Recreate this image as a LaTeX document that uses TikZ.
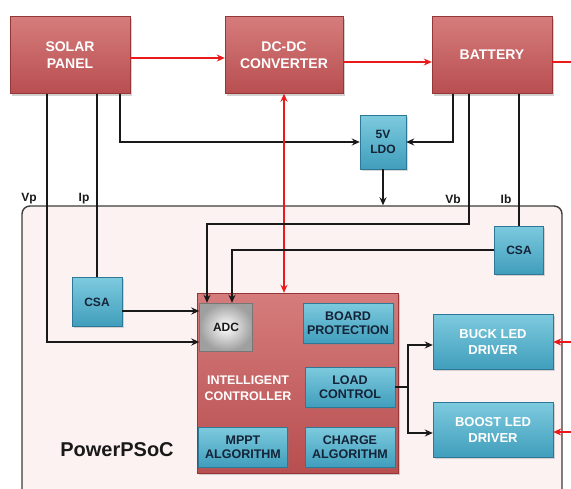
\documentclass[tikz,border=0pt]{standalone}
\usepackage{fontspec}
\setmainfont{Liberation Sans}
\usetikzlibrary{arrows.meta,positioning,calc,shadows}
\definecolor{ink}{RGB}{25,25,25}
\definecolor{navy}{RGB}{20,35,55}
\definecolor{redtop}{RGB}{214,124,124}
\definecolor{redbot}{RGB}{184,78,80}
\definecolor{redline}{RGB}{150,55,55}
\definecolor{bluetop}{RGB}{125,202,222}
\definecolor{bluebot}{RGB}{64,158,188}
\definecolor{blueline}{RGB}{45,120,150}
\definecolor{wire}{RGB}{235,25,25}
\definecolor{pinkbg}{RGB}{253,242,242}
\definecolor{frame}{RGB}{60,60,60}
\tikzset{
  pwr/.style={draw=redline,top color=redtop,bottom color=redbot,text=white,inner sep=0pt,
    font=\fontsize{14}{17}\selectfont\bfseries,align=center,
    drop shadow={opacity=.35,shadow xshift=2pt,shadow yshift=-2pt}},
  blk/.style={draw=blueline,top color=bluetop,bottom color=bluebot,text=navy,inner sep=0pt,
    font=\fontsize{12.5}{14}\selectfont\bfseries,align=center,
    minimum width=90pt,minimum height=40pt,
    drop shadow={opacity=.3,shadow xshift=1.5pt,shadow yshift=-1.5pt}},
  led/.style={blk,text=white,minimum width=120pt,minimum height=55pt,
    font=\fontsize{13}{16}\selectfont\bfseries},
  chip/.style={draw=frame,line width=1.4pt,fill=pinkbg,rounded corners=8pt,inner sep=0pt},
  lbl/.style={font=\fontsize{12}{14}\selectfont\bfseries,text=ink},
  arr/.style={->,ink,line width=2.3pt},
  rarr/.style={->,wire,line width=2pt},
}

\begin{document}
\begin{tikzpicture}[x=1pt,y=-1pt,>={Stealth[length=8pt,width=7pt]}]
\useasboundingbox[fill=white] (0,0) rectangle (571,488);
% power path
\node[pwr,minimum width=120pt,minimum height=77pt] (solar) at (70,55) {SOLAR\\PANEL};
\node[pwr,minimum width=118pt,minimum height=77pt] (dcdc) at (284,55) {DC-DC\\CONVERTER};
\node[pwr,minimum width=120pt,minimum height=77pt] (batt) at (492,55) {BATTERY};
\node[blk,minimum width=46pt,minimum height=54pt,font=\fontsize{12}{15}\selectfont\bfseries] (ldo) at (383,142) {5V\\LDO};
\coordinate (bout) at (580,62);
\draw[rarr] ([yshift=-3pt]solar.east) -- ([yshift=-3pt]dcdc.west);
\draw[rarr] ([yshift=-7pt]dcdc.east) -- ([yshift=-7pt]batt.west);
\draw[rarr] ([yshift=-7pt]batt.east) -- (bout);
% PowerPSoC
\node[chip,minimum width=540pt,minimum height=304pt] (psoc) at (292,358) {};
\node[font=\fontsize{20}{24}\selectfont\bfseries,text=ink] (name) at (117,450) {PowerPSoC};
\node[pwr,minimum width=201pt,minimum height=180pt] (ctrl) at (297.5,383) {};
\node[draw=frame!70,inner color=white,outer color=gray!75,text=ink,
  font=\fontsize{12}{14}\selectfont\bfseries,minimum width=53pt,minimum height=48pt,inner sep=0pt] (adc) at (226,327) {ADC};
\node[text=white,font=\fontsize{12.5}{16}\selectfont\bfseries,align=center] (intel) at (248,388) {INTELLIGENT\\CONTROLLER};
\node[blk] (board) at (348,323) {BOARD\\PROTECTION};
\node[blk] (load) at (350,387) {LOAD\\CONTROL};
\node[blk,minimum width=89pt] (mppt) at (243,447) {MPPT\\ALGORITHM};
\node[blk] (charge) at (350,447) {CHARGE\\ALGORITHM};
\node[blk,minimum width=50pt,minimum height=49pt,font=\fontsize{12}{14}\selectfont\bfseries] (csap) at (97,302) {CSA};
\node[blk,minimum width=49pt,minimum height=48pt,font=\fontsize{12}{14}\selectfont\bfseries] (csab) at (519,250) {CSA};
\node[led] (buck) at (493,342) {BUCK LED\\DRIVER};
\node[led] (boost) at (493,430) {BOOST LED\\DRIVER};
% sense lines
\node[lbl] (vp) at (29,199) {Vp};
\node[lbl] (ip) at (84,199) {Ip};
\node[lbl] (vb) at (453,199) {Vb};
\node[lbl] (ib) at (506,199) {Ib};
\draw[arr] ([xshift=50pt]solar.south) |- (ldo.west);
\draw[arr] ([xshift=-39pt]batt.south) |- (ldo.east);
\draw[arr] (ldo.south) -- (ldo.south |- psoc.north);
\draw[rarr,<->] (dcdc.south) -- (dcdc.south |- ctrl.north);
\draw[arr] ([xshift=-23pt]solar.south) |- ([yshift=-15pt]adc.west);
\draw[ink,line width=2.3pt] (csap.north |- solar.south) -- (csap.north);
\draw[arr] ([yshift=-9pt]csap.east) -- ([yshift=-9pt]csap.east -| adc.west);
\draw[arr] ([xshift=-23pt]batt.south) -- ++(0,130) -| ([xshift=-19pt]adc.north);
\draw[ink,line width=2.3pt] (csab.north |- batt.south) -- (csab.north);
\draw[arr] (csab.west) -| ([xshift=6pt]adc.north);
\draw[arr] (load.east) -- ++(13,0) |- ([yshift=-3pt]buck.west);
\draw[arr] (load.east) -- ++(13,0) |- ([yshift=-3pt]boost.west);
% LED supply
\coordinate (rb) at (580,342);
\coordinate (rc) at (580,432);
\draw[rarr] (rb) -- (buck.east);
\draw[rarr] (rc) -- ([yshift=-2pt]boost.east);
\end{tikzpicture}
\end{document}
